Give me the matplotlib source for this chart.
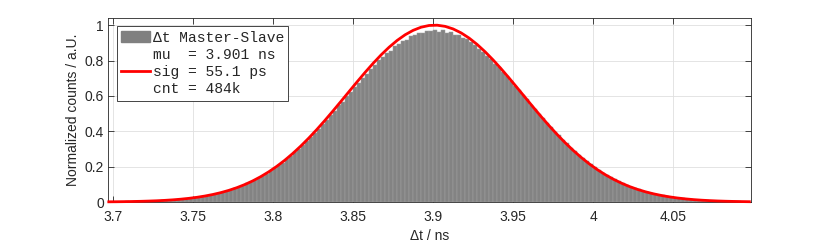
"""
Histogram of the Master-Slave time difference with a Gaussian fit.
"""

import numpy as np
import matplotlib
matplotlib.use("Agg")
import matplotlib.pyplot as plt
from matplotlib.patches import Patch
from matplotlib.lines import Line2D

# histogram bins (ns) and normalized counts
BIN_START = 3.6975
BIN_WIDTH = 0.0025
HIST_VALUES = [
    0.001, 0.002, 0.001, 0.002, 0.003, 0.002, 0.003, 0.004, 0.003, 0.005,
    0.005, 0.007, 0.007, 0.009, 0.010, 0.011, 0.013, 0.016, 0.017, 0.019,
    0.021, 0.026, 0.027, 0.031, 0.036, 0.039, 0.046, 0.049, 0.057, 0.062,
    0.068, 0.078, 0.084, 0.093, 0.105, 0.112, 0.124, 0.134, 0.149, 0.160,
    0.176, 0.190, 0.209, 0.223, 0.242, 0.259, 0.282, 0.301, 0.322, 0.343,
    0.366, 0.392, 0.412, 0.440, 0.463, 0.492, 0.515, 0.547, 0.568, 0.598,
    0.620, 0.651, 0.672, 0.703, 0.724, 0.752, 0.773, 0.801, 0.818, 0.845,
    0.855, 0.880, 0.893, 0.912, 0.918, 0.938, 0.942, 0.957, 0.958, 0.967,
    0.966, 0.975, 0.962, 0.972, 0.957, 0.961, 0.945, 0.943, 0.926, 0.921,
    0.903, 0.889, 0.866, 0.850, 0.826, 0.808, 0.782, 0.762, 0.733, 0.712,
    0.686, 0.657, 0.635, 0.604, 0.581, 0.551, 0.527, 0.497, 0.475, 0.447,
    0.426, 0.398, 0.379, 0.352, 0.333, 0.308, 0.290, 0.268, 0.250, 0.231,
    0.214, 0.196, 0.182, 0.165, 0.153, 0.139, 0.128, 0.116, 0.106, 0.096,
    0.087, 0.079, 0.071, 0.064, 0.058, 0.051, 0.047, 0.041, 0.037, 0.033,
    0.029, 0.025, 0.023, 0.020, 0.018, 0.015, 0.014, 0.012, 0.010, 0.009,
    0.008, 0.007, 0.006, 0.005, 0.004, 0.004, 0.003, 0.003, 0.002, 0.002,
]

# gaussian fit curve (every 5 ps)
FIT_START = 3.6975
FIT_STEP = 0.005
FIT_VALUES = [
    0.0011, 0.0015, 0.0021, 0.0029, 0.0039, 0.0053, 0.0070, 0.0093, 0.0122,
    0.0160, 0.0207, 0.0265, 0.0337, 0.0425, 0.0531, 0.0659, 0.0811, 0.0990,
    0.1198, 0.1439, 0.1713, 0.2023, 0.2369, 0.2753, 0.3172, 0.3625, 0.4108,
    0.4618, 0.5148, 0.5692, 0.6241, 0.6788, 0.7323, 0.7834, 0.8313, 0.8748,
    0.9131, 0.9452, 0.9704, 0.9882, 0.9980, 0.9996, 0.9931, 0.9785, 0.9562,
    0.9267, 0.8908, 0.8492, 0.8030, 0.7531, 0.7004, 0.6461, 0.5911, 0.5364,
    0.4827, 0.4309, 0.3815, 0.3349, 0.2917, 0.2519, 0.2158, 0.1833, 0.1545,
    0.1291, 0.1070, 0.0879, 0.0717, 0.0580, 0.0465, 0.0370, 0.0292, 0.0228,
    0.0177, 0.0136, 0.0104, 0.0079, 0.0059, 0.0044, 0.0033, 0.0024, 0.0017,
]

LEGEND_LABELS = ["\u0394t Master-Slave", "mu  = 3.901 ns",
                 "sig = 55.1 ps", "cnt = 484k"]
X_TICKS = [3.7, 3.75, 3.8, 3.85, 3.9, 3.95, 4.0, 4.05]
X_TICKLABELS = ["3.7", "3.75", "3.8", "3.85", "3.9", "3.95", "4", "4.05"]
Y_TICKS = [0, 0.2, 0.4, 0.6, 0.8, 1.0]
Y_TICKLABELS = ["0", "0.2", "0.4", "0.6", "0.8", "1"]

AX_COLOR = "#262626"


def plot_hist():
    """draws the histogram, the fit and the legend, saves out.png"""
    plt.rcParams["font.family"] = ["Liberation Sans", "DejaVu Sans"]

    fig = plt.figure(figsize=(8.30, 2.43), dpi=100)
    ax = fig.add_axes([0.1301, 0.1687, 0.7747, 0.757])

    # bars
    x_bins = [BIN_START + BIN_WIDTH * i for i in range(len(HIST_VALUES))]
    ax.bar(x_bins, HIST_VALUES, width=BIN_WIDTH, align="edge",
           color="#838383", edgecolor="#a0a0a0", linewidth=0.35, zorder=2)

    # fit
    x_fit = [FIT_START + FIT_STEP * i for i in range(len(FIT_VALUES))]
    ax.plot(x_fit, FIT_VALUES, color="#ff0000", linewidth=2.0, zorder=3,
            clip_on=False)

    # axes
    ax.set_xlim(3.697, 4.0985)
    ax.set_ylim(0, 1.04)
    ax.set_xticks(X_TICKS)
    ax.set_xticklabels(X_TICKLABELS)
    ax.set_yticks(Y_TICKS)
    ax.set_yticklabels(Y_TICKLABELS)
    ax.tick_params(direction="in", length=4, width=0.6, colors=AX_COLOR,
                   labelsize=10, top=True, right=True, pad=3)
    ax.tick_params(axis="x", pad=6)
    for s in ax.spines.values():
        s.set_color(AX_COLOR)
        s.set_linewidth(0.6)
    ax.grid(True, color="#dfdfdf", linewidth=0.6, zorder=0)
    ax.set_axisbelow(True)

    ax.set_xlabel("\u0394t / ns", fontsize=10, color=AX_COLOR, labelpad=3)
    ax.set_ylabel("Normalized counts / a.U.", fontsize=10, color=AX_COLOR,
                  labelpad=3)

    # legend with dummy entries for the fit numbers
    handles = [Patch(facecolor="#808080", edgecolor="#808080"),
               Line2D([], [], color="none"),
               Line2D([], [], color="#ff0000", linewidth=2.0),
               Line2D([], [], color="none")]
    leg = ax.legend(handles, LEGEND_LABELS, loc="upper left",
                    bbox_to_anchor=(0.0139, 0.955), borderaxespad=0,
                    prop={"family": "Liberation Mono", "size": 10.5},
                    handlelength=1.95, handletextpad=0.2, labelspacing=0.22,
                    borderpad=0.3, fancybox=False, framealpha=1)
    leg.get_frame().set_edgecolor(AX_COLOR)
    leg.get_frame().set_linewidth(0.6)
    for t in leg.get_texts():
        t.set_color(AX_COLOR)

    fig.savefig("out.png", dpi=100)


if __name__ == "__main__":
    plot_hist()
